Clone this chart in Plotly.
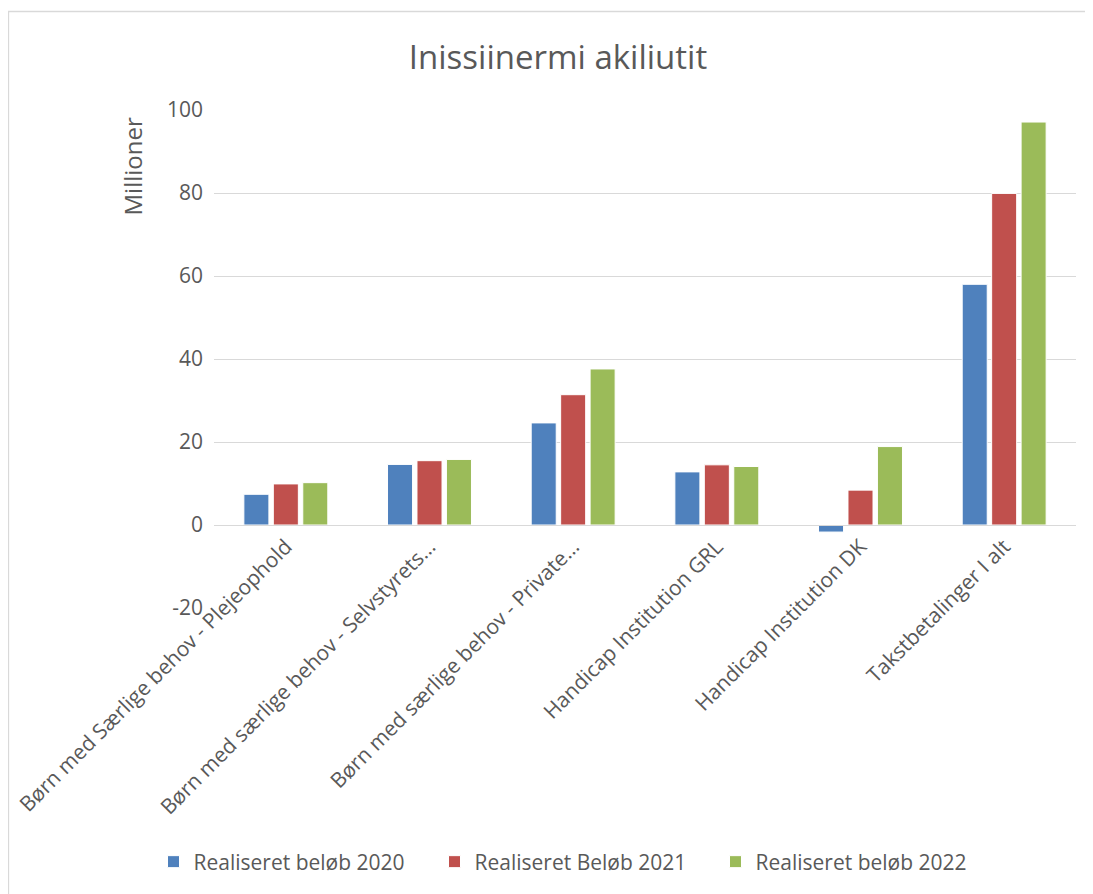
import plotly.graph_objects as go

categories = [
    "Børn med Særlige behov - Plejeophold",
    "Børn med særlige behov - Selvstyrets…",
    "Børn med særlige behov - Private…",
    "Handicap Institution GRL",
    "Handicap Institution DK",
    "Takstbetalinger I alt",
]
series_names = ["Realiseret beløb 2020", "Realiseret Beløb 2021", "Realiseret beløb 2022"]
values_2020 = [7.4, 14.6, 24.6, 12.8, -1.7, 58.0]
values_2021 = [9.9, 15.5, 31.4, 14.5, 8.4, 79.9]
values_2022 = [10.2, 15.8, 37.6, 14.1, 18.9, 97.1]
y_tick_values = [-20, 0, 20, 40, 60, 80, 100]
y_tick_labels = ["-20", "0", "20", "40", "60", "80", "100"]
colors = ["#4F81BD", "#C0504D", "#9BBB59"]

# page body adds an 8px offset, so the figure is laid out 8px smaller
W, H = 1085, 886
L, R, T, B = 206, 1068, 102, 600
FONT = "Open Sans"
GREY = "#595959"

fig = go.Figure()
for name, vals, col in zip(series_names, [values_2020, values_2021, values_2022], colors):
    fig.add_trace(go.Bar(x=categories, y=vals, name=name,
                         marker=dict(color=col, line=dict(color="white", width=1))))

def px_x(p):
    return (p - L) / (R - L)

def px_y(p):
    return (B - p) / (B - T)

fig.update_layout(
    template="none",
    width=W, height=H,
    margin=dict(l=L, r=W - R, t=T, b=H - B, pad=0, autoexpand=False),
    paper_bgcolor="white", plot_bgcolor="white",
    font=dict(family=FONT, color=GREY, size=16),
    barmode="group", bargap=0.385, bargroupgap=0.15,
    title=dict(text="Inissiinermi akiliutit", x=550 / W, xref="container", xanchor="center",
               y=1 - 49 / H, yref="container", yanchor="middle",
               font=dict(family=FONT, size=33, color=GREY)),
    legend=dict(orientation="h", xref="container", yref="container", x=567 / W, xanchor="center",
                y=32 / H, yanchor="middle", font=dict(family=FONT, size=21, color=GREY),
                itemwidth=30, entrywidth=236, entrywidthmode="pixels",
                traceorder="normal", bgcolor="rgba(0,0,0,0)"),
    yaxis=dict(range=[-20, 100], tickmode="array", tickvals=y_tick_values, ticktext=y_tick_labels,
               showgrid=True, gridcolor="#D9D9D9", gridwidth=1.3, automargin=False,
               zeroline=False, showline=False, ticks="", tickfont=dict(size=21, color=GREY),
               ticklabelstandoff=10),
    xaxis=dict(anchor="free", position=20 / 120, tickangle=-45, showline=True, linecolor="#D9D9D9",
               linewidth=1.3, ticks="", tickfont=dict(size=21, color=GREY), showgrid=False,
               automargin=False),
    annotations=[dict(text="Millioner", xref="paper", yref="paper", x=px_x(124), y=px_y(158.5),
                      xanchor="center", yanchor="middle", textangle=-90, showarrow=False,
                      font=dict(family=FONT, size=24, color=GREY))],
    shapes=[dict(type="rect", xref="paper", yref="paper",
                 x0=px_x(0.5), x1=px_x(1110), y0=px_y(910), y1=px_y(3.5),
                 line=dict(color="#D9D9D9", width=1.3), fillcolor="rgba(0,0,0,0)", layer="below")],
)

fig.write_html("out.html")
